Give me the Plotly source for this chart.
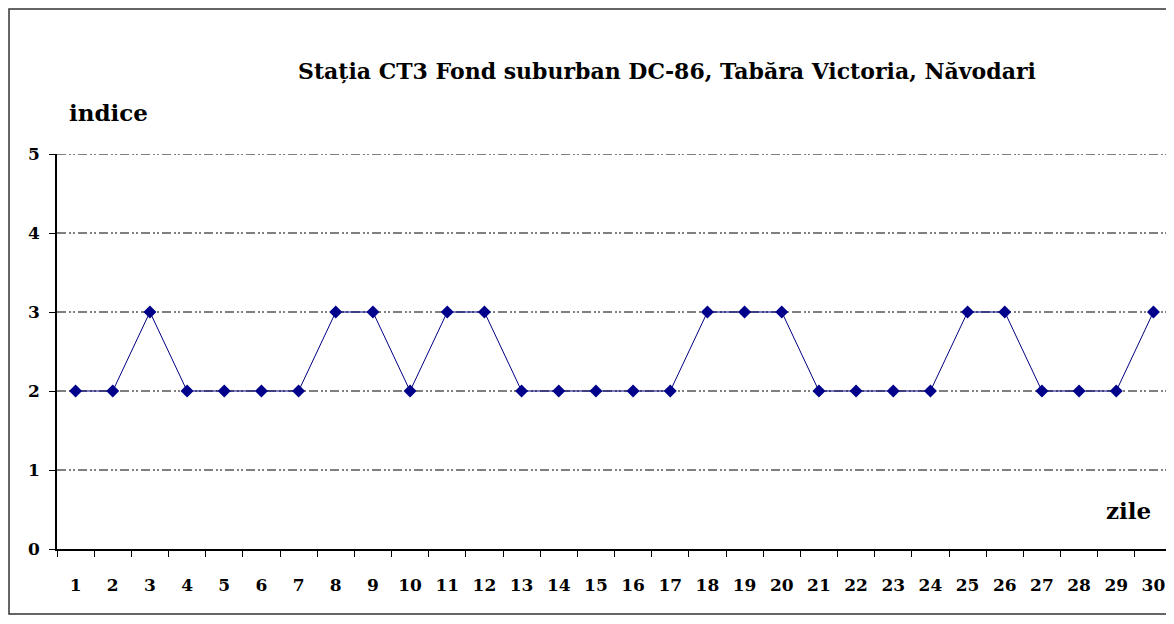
import plotly.graph_objects as go

# Daily index values, days 1..30
zile = [str(d) for d in range(1, 31)]
indice = [2, 2, 3, 2, 2, 2, 2, 3, 3, 2, 3, 3, 2, 2, 2, 2, 2, 3, 3, 3,
          2, 2, 2, 2, 3, 3, 2, 2, 2, 3]
y_ticks = [0, 1, 2, 3, 4, 5]

titlu = "Stația CT3 Fond suburban DC-86, Tabăra Victoria, Năvodari"

# page body has an 8px margin, so the figure is drawn smaller and offset
OFF = 8
W, H = 1174 - OFF, 624 - 2 * OFF
L, R, T, B = 49, 2, 146, 67
pw, ph = W - L - R, H - T - B

SERIF = "DejaVu Serif, Liberation Serif, serif"
GRID_DASH = "9px,3px,2px,2px,2px,3px"


def px(xs):
    # screen x -> paper x
    return (xs - OFF - L) / pw


def py(ys):
    # screen y -> paper y
    return (T + ph - (ys - OFF)) / ph


fig = go.Figure()

fig.add_trace(go.Scatter(
    x=zile, y=indice,
    mode="lines+markers",
    line=dict(color="#000080", width=1),
    marker=dict(symbol="diamond", size=10, color="#00008B"),
    showlegend=False,
    cliponaxis=False,
))

# dash-dot-dot gridlines
for v in y_ticks[1:]:
    fig.add_shape(type="line", xref="paper", yref="y", layer="below",
                  x0=0, x1=1, y0=v, y1=v,
                  line=dict(color="black", width=1, dash=GRID_DASH))

# outer chart border
fig.add_shape(type="rect", xref="paper", yref="paper",
              x0=px(9), x1=px(1185), y0=py(614), y1=py(9),
              line=dict(color="#333333", width=1.5))

fig.add_annotation(text="<b>" + titlu + "</b>", xref="paper", yref="paper",
                   x=px(667), y=py(71), xanchor="center", yanchor="middle",
                   showarrow=False,
                   font=dict(family=SERIF, size=22, color="black"))
fig.add_annotation(text="<b>indice</b>", xref="paper", yref="paper",
                   x=px(67), y=py(112), xanchor="left", yanchor="middle",
                   showarrow=False,
                   font=dict(family=SERIF, size=23, color="black"))
fig.add_annotation(text="<b>zile</b>", xref="paper", yref="paper",
                   x=px(1153), y=py(510), xanchor="right", yanchor="middle",
                   showarrow=False,
                   font=dict(family=SERIF, size=23, color="black"))

fig.update_layout(
    width=W, height=H,
    margin=dict(l=L, r=R, t=T, b=B),
    plot_bgcolor="white", paper_bgcolor="white",
    xaxis=dict(
        type="category", range=[-0.5, len(zile) - 0.5],
        tickson="boundaries", ticks="outside", ticklen=6,
        tickcolor="black", showline=True, linecolor="black", linewidth=1.5,
        showgrid=False, zeroline=False, ticklabelstandoff=20,
        tickfont=dict(family=SERIF, size=17, color="black", weight="bold"),
    ),
    yaxis=dict(
        range=[0, 5], tickvals=y_ticks, ticks="outside", ticklen=6,
        tickcolor="black", showline=True, linecolor="black", linewidth=1.5,
        showgrid=False, zeroline=False, ticklabelstandoff=6,
        tickfont=dict(family=SERIF, size=17, color="black", weight="bold"),
    ),
)

fig.write_html("out.html")
